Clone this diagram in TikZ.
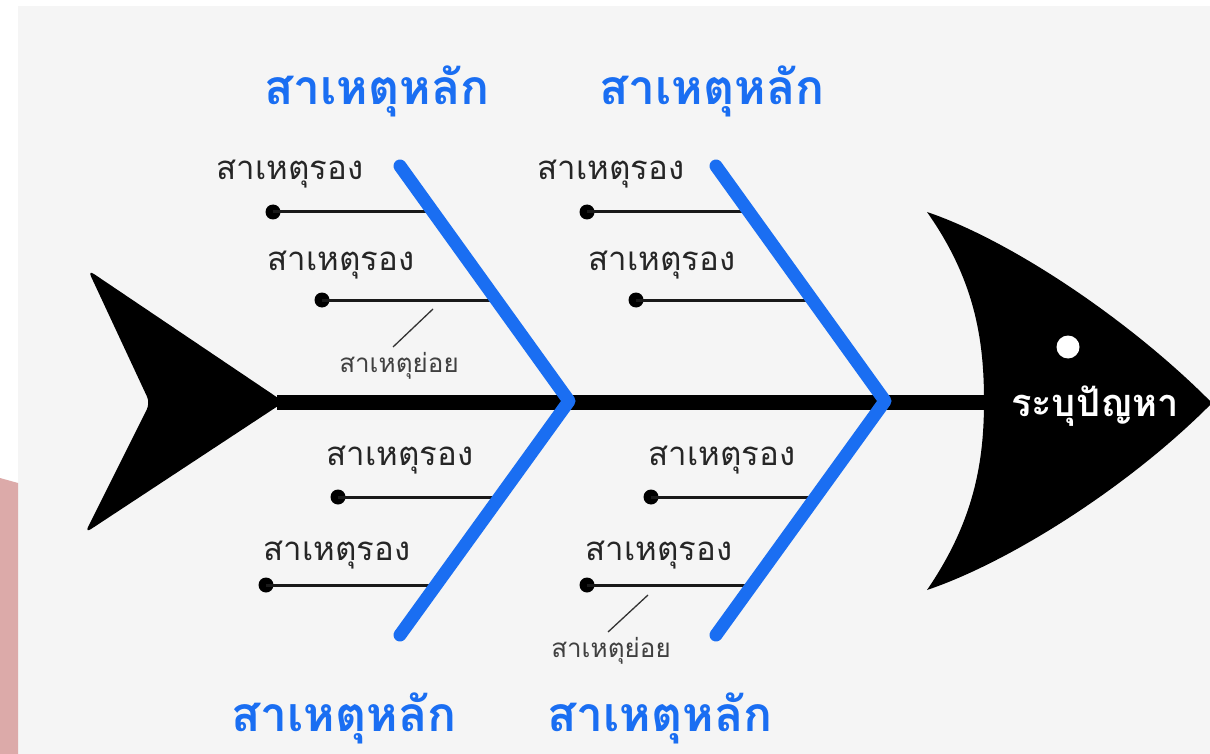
\documentclass[tikz,border=0pt]{standalone}
\usepackage{fontspec}
\newfontfamily\thaifont[Script=Thai]{Loma}
\definecolor{mainblue}{RGB}{26,110,242}
\definecolor{paper}{RGB}{245,245,245}
\definecolor{pinkbar}{RGB}{220,170,169}
\tikzset{
  heading/.style={font=\thaifont\bfseries\fontsize{48}{48}\selectfont, text=mainblue, anchor=base, inner sep=0pt},
  subcause/.style={font=\thaifont\fontsize{33}{33}\selectfont, text=black!85, anchor=base, inner sep=0pt},
  minorcause/.style={font=\thaifont\fontsize{26}{26}\selectfont, text=black!75, anchor=base, inner sep=0pt},
  headtext/.style={font=\thaifont\bfseries\fontsize{38}{38}\selectfont, text=white, anchor=base, inner sep=0pt},
  bone/.style={draw=mainblue, line width=13pt, line cap=round, line join=round},
  twig/.style={draw=black!90, line width=3pt},
  knob/.style={circle, fill=black, minimum size=15pt, inner sep=0pt},
  slash/.style={draw=black!80, line width=1.3pt},
}
\begin{document}
\begin{tikzpicture}[x=1pt,y=-1pt]
\useasboundingbox (0,0) rectangle (1210,754);
% background
\fill[white] (0,0) rectangle (1210,754);
\fill[paper] (18,6) rectangle (1210,754);
\fill[pinkbar] (0,478) -- (18,483) -- (18,754) -- (0,754) -- cycle;

% spine
\coordinate (tailjoin) at (277,402);
\coordinate (headjoin) at (990,402);
\draw[line width=15pt] (tailjoin) -- (headjoin);

% tail
\fill[rounded corners=7pt] (88,270) -- (284,402) -- (85,533) -- (150,403) -- cycle;

% head
\fill (927,212) .. controls (1010,240) and (1130,320) .. (1212,403)
  .. controls (1130,486) and (1010,562) .. (927,590)
  .. controls (975,520) and (984,460) .. (984,401)
  .. controls (984,340) and (975,280) .. (927,212) -- cycle;
\node[circle, fill=white, minimum size=23pt, inner sep=0pt] (eye) at (1068,347) {};
\node[headtext] (problem) at (1095,416) {ระบุปัญหา};

% main bones coordinates
\coordinate (b1t) at (400,166);
\coordinate (b1v) at (569,401);
\coordinate (b1b) at (400,635);
\coordinate (b2t) at (716,166);
\coordinate (b2v) at (885,401);
\coordinate (b2b) at (716,635);

% sub-cause twigs (group 1)
\node[knob] (d1) at (273,212) {};
\coordinate (e1) at (433,212);
\node[knob] (d2) at (322,300) {};
\coordinate (e2) at (496,300);
\node[knob] (d3) at (338,497) {};
\coordinate (e3) at (500,497);
\node[knob] (d4) at (266,585) {};
\coordinate (e4) at (437,585);
% group 2
\node[knob] (d5) at (587,212) {};
\coordinate (e5) at (749,212);
\node[knob] (d6) at (636,300) {};
\coordinate (e6) at (812,300);
\node[knob] (d7) at (651,497) {};
\coordinate (e7) at (816,497);
\node[knob] (d8) at (587,585) {};
\coordinate (e8) at (753,585);

\foreach \i in {1,...,8} { \draw[twig] (d\i.center) -- (e\i); }

% blue bones
\draw[bone] (b1t) -- (b1v) -- (b1b);
\draw[bone] (b2t) -- (b2v) -- (b2b);

% labels
\node[heading] (h1) at (377,105) {สาเหตุหลัก};
\node[heading] (h2) at (712,105) {สาเหตุหลัก};
\node[heading] (h3) at (344,731) {สาเหตุหลัก};
\node[heading] (h4) at (660,731) {สาเหตุหลัก};

\node[subcause] (s1) at (290,180) {สาเหตุรอง};
\node[subcause] (s2) at (341,270) {สาเหตุรอง};
\node[subcause] (s3) at (400,465) {สาเหตุรอง};
\node[subcause] (s4) at (337,560) {สาเหตุรอง};
\node[subcause] (s5) at (611,180) {สาเหตุรอง};
\node[subcause] (s6) at (662,270) {สาเหตุรอง};
\node[subcause] (s7) at (722,465) {สาเหตุรอง};
\node[subcause] (s8) at (659,560) {สาเหตุรอง};

% minor causes
\node[minorcause] (m1) at (399,372) {สาเหตุย่อย};
\coordinate (m1a) at (433,309);
\coordinate (m1b) at (393,347);
\draw[slash] (m1a) -- (m1b);
\node[minorcause] (m2) at (611,657) {สาเหตุย่อย};
\coordinate (m2a) at (648,595);
\coordinate (m2b) at (608,632);
\draw[slash] (m2a) -- (m2b);
\end{tikzpicture}
\end{document}
